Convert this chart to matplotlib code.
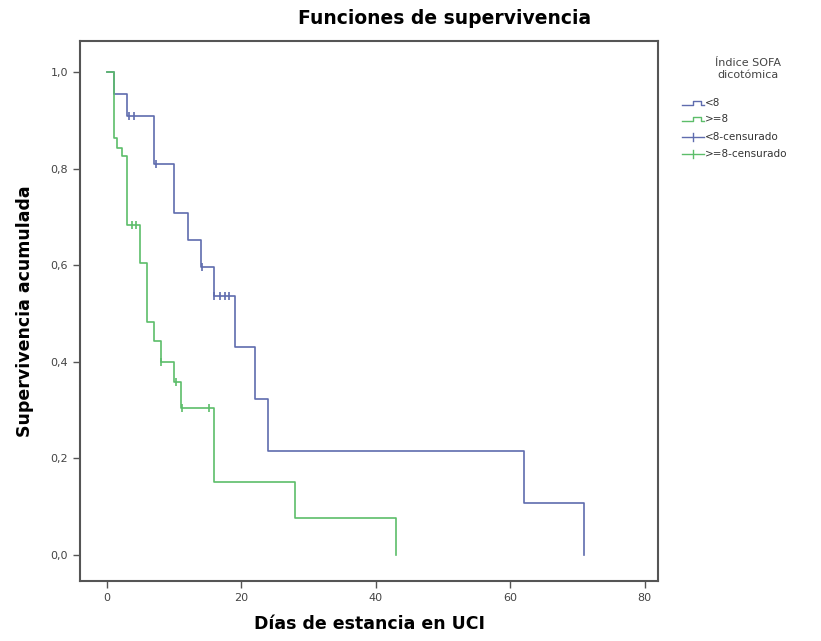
import matplotlib
matplotlib.use("Agg")
import matplotlib.pyplot as plt
from matplotlib.lines import Line2D

# curvas de Kaplan-Meier
dias_bajo = [0, 1, 3, 7, 10, 12, 14, 16, 19, 22, 24, 62, 71]
surv_bajo = [1.0, 0.955, 0.909, 0.81, 0.708, 0.652, 0.597, 0.536, 0.431, 0.323, 0.215, 0.107, 0.0]
cens_dias_bajo = [3.3, 4.0, 7.3, 14.2, 16.0, 16.8, 17.5, 18.2]
cens_surv_bajo = [0.909, 0.909, 0.81, 0.597, 0.536, 0.536, 0.536, 0.536]

dias_alto = [0, 1, 1.5, 2.2, 3, 5, 6, 7, 8, 10, 11, 16, 28, 43]
surv_alto = [1.0, 0.864, 0.843, 0.826, 0.683, 0.604, 0.483, 0.442, 0.400, 0.357, 0.304, 0.152, 0.076, 0.0]
cens_dias_alto = [3.7, 4.4, 8.1, 10.3, 11.2, 15.2]
cens_surv_alto = [0.683, 0.683, 0.400, 0.357, 0.304, 0.304]

xticks = [0, 20, 40, 60, 80]
yticks = [0.0, 0.2, 0.4, 0.6, 0.8, 1.0]
yticklabels = ["0,0", "0,2", "0,4", "0,6", "0,8", "1,0"]
leyenda = ["<8", ">=8", "<8-censurado", ">=8-censurado"]

azul = "#5f6cae"
verde = "#5cbd6a"
W, H = 821, 641

fig = plt.figure(figsize=(W / 100, H / 100), dpi=100)
ax = fig.add_axes([80 / W, 1 - 581 / H, (658 - 80) / W, (581 - 41) / H])

ax.step(dias_bajo, surv_bajo, where="post", color=azul, lw=1.2)
ax.step(dias_alto, surv_alto, where="post", color=verde, lw=1.2)
ax.plot(cens_dias_bajo, cens_surv_bajo, ls="none", marker="|", ms=6, mew=1.2, color=azul)
ax.plot(cens_dias_alto, cens_surv_alto, ls="none", marker="|", ms=6, mew=1.2, color=verde)

ax.set_xlim(-4, 82)
ax.set_ylim(-0.054, 1.064)
ax.set_xticks(xticks)
ax.set_yticks(yticks)
ax.set_yticklabels(yticklabels)
ax.tick_params(direction="out", length=5, width=1, colors="#555555", labelsize=8,
               labelcolor="#444444")
for s in ax.spines.values():
    s.set_color("#555555")
    s.set_linewidth(1.5)

ax.set_xlabel("Días de estancia en UCI", fontsize=12.5, fontweight="bold", labelpad=9)
ax.set_ylabel("Supervivencia acumulada", fontsize=12.5, fontweight="bold", labelpad=12)
fig.text(445 / W, 1 - 18 / H, "Funciones de supervivencia", fontsize=13.5, fontweight="bold",
         ha="center", va="center")

# leyenda dibujada a mano (pixeles medidos desde arriba)
def px(x, y):
    return x / W, 1 - y / H

fig.text(*px(748, 69), "Índice SOFA\ndicotómica", fontsize=8, color="#444444",
         ha="center", va="center", linespacing=1.35)
ys = [103, 119, 137, 154]
for i, (etq, y) in enumerate(zip(leyenda, ys)):
    col = azul if i % 2 == 0 else verde
    if i < 2:
        xs = [682, 693, 693, 701, 701, 704]
        yy = [y + 2, y + 2, y - 2, y - 2, y + 2, y + 2]
    else:
        xs = [682, 704]
        yy = [y, y]
    fx, fy = zip(*[px(a, b) for a, b in zip(xs, yy)])
    fig.add_artist(Line2D(fx, fy, color=col, lw=1))
    if i >= 2:
        fig.add_artist(Line2D([px(693, 0)[0]] * 2, [px(0, y - 4)[1], px(0, y + 4)[1]], color=col, lw=1))
    fig.text(*px(705, y), etq, fontsize=7.5, color="#333333", ha="left", va="center")

fig.savefig("out.png", dpi=100, facecolor="white")
